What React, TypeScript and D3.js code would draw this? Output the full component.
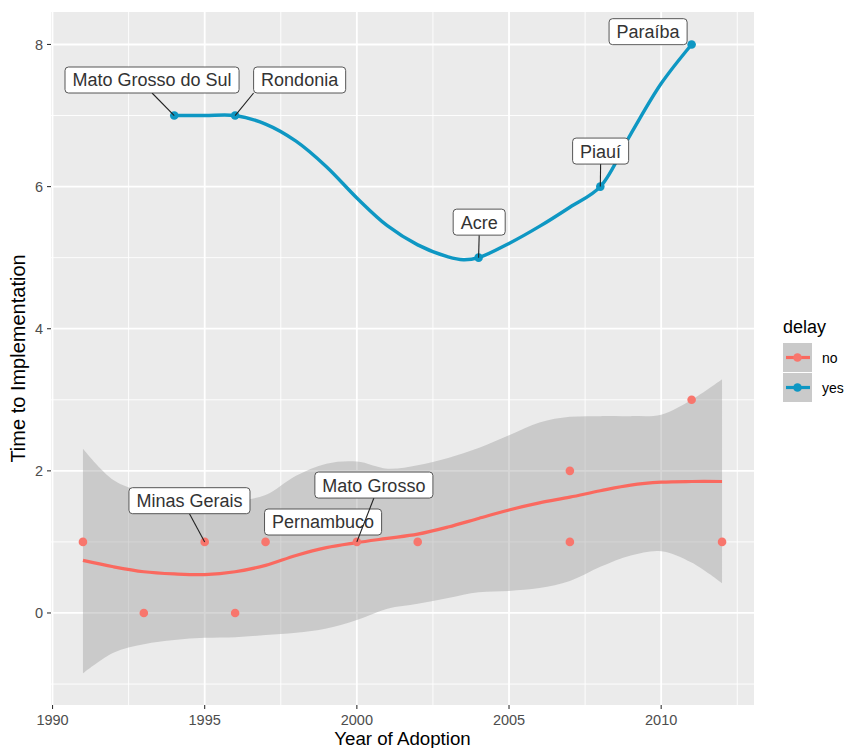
import React from 'react';
import * as d3 from 'd3';

const W = 844;
const H = 748;

// observed data: delay = "no"
const noYears = [1991, 1993, 1995, 1996, 1997, 2000, 2002, 2007, 2007, 2011, 2012];
const noValues = [1, 0, 1, 0, 1, 1, 1, 2, 1, 3, 1];
// observed data: delay = "yes"
const yesYears = [1994, 1996, 2004, 2008, 2011];
const yesValues = [7, 7, 5, 6, 8];

// smoother (delay = "no")
const fitNoYears = [1991, 1992, 1993, 1994, 1995, 1996, 1997, 1998, 1999, 2000, 2001, 2002, 2003, 2004, 2005, 2006, 2007, 2008, 2009, 2010, 2011, 2012];
const fitNoValues = [0.74, 0.65, 0.58, 0.55, 0.54, 0.58, 0.67, 0.81, 0.92, 0.99, 1.05, 1.11, 1.21, 1.33, 1.45, 1.55, 1.63, 1.72, 1.8, 1.84, 1.85, 1.85];
const bandUpper = [2.31, 1.87, 1.7, 1.61, 1.58, 1.58, 1.66, 1.93, 2.1, 2.13, 2.03, 2.08, 2.18, 2.32, 2.5, 2.68, 2.76, 2.77, 2.77, 2.79, 3.0, 3.29];
const bandLower = [-0.85, -0.56, -0.44, -0.38, -0.35, -0.34, -0.31, -0.28, -0.22, -0.1, 0.06, 0.13, 0.21, 0.29, 0.31, 0.35, 0.45, 0.65, 0.81, 0.87, 0.71, 0.42];

// smoother (delay = "yes")
const fitYesYears = [1994, 1995, 1996, 1997, 1998, 1999, 2000, 2001, 2002, 2003, 2003.5, 2004, 2005, 2006, 2007, 2008, 2009, 2010, 2011];
const fitYesValues = [7, 7, 7, 6.88, 6.64, 6.28, 5.84, 5.45, 5.18, 5.01, 4.97, 5.0, 5.2, 5.44, 5.71, 6.0, 6.74, 7.45, 8];

// labelled states
const labelNames = ['Mato Grosso do Sul', 'Rondonia', 'Acre', 'Piauí', 'Paraíba', 'Minas Gerais', 'Pernambuco', 'Mato Grosso'];
const labelYears = [1994, 1996, 2004, 2008, 2011, 1995, 1997, 2000];
const labelValues = [7, 7, 5, 6, 8, 1, 1, 1];
// repelled label centres (data units)
const labelBoxYears = [1993.27, 1998.12, 2004.02, 2008.01, 2009.57, 1994.5, 1998.89, 2000.56];
const labelBoxValues = [7.5, 7.5, 5.5, 6.5, 8.18, 1.58, 1.28, 1.8];

const xTicks = [1990, 1995, 2000, 2005, 2010];
const xMinor = [1992.5, 1997.5, 2002.5, 2007.5, 2012.5];
const yTicks = [0, 2, 4, 6, 8];
const yMinor = [-1, 1, 3, 5, 7];
const legendLabels = ['no', 'yes'];

const RED = '#F8766D';
const RED_LINE = '#FA695F';
const BLUE = '#0E97C3';
const FONT = '"Liberation Sans", Arial, Helvetica, sans-serif';

const panel = { left: 51, right: 754, top: 12, bottom: 705 };

function measure(text: string, size: number): number {
  const c = document.createElement('canvas').getContext('2d');
  if (!c) return text.length * size * 0.55;
  c.font = `${size}px "Liberation Sans"`;
  return c.measureText(text).width;
}

export default function App() {
  const x = d3.scaleLinear().domain([1989.95, 2013.05]).range([panel.left, panel.right]);
  const y = d3.scaleLinear().domain([-1.295, 8.457]).range([panel.bottom, panel.top]);

  const band = d3
    .area<number>()
    .x((_, i) => x(fitNoYears[i]))
    .y0((_, i) => y(bandLower[i]))
    .y1((_, i) => y(bandUpper[i]))
    .curve(d3.curveCatmullRom.alpha(0.5));
  const lineNo = d3
    .line<number>()
    .x((_, i) => x(fitNoYears[i]))
    .y((d) => y(d))
    .curve(d3.curveCatmullRom.alpha(0.5));
  const lineYes = d3
    .line<number>()
    .x((_, i) => x(fitYesYears[i]))
    .y((d) => y(d))
    .curve(d3.curveCatmullRom.alpha(0.5));

  const labelSize = 18;
  const padX = 7.5;
  const boxH = 26;

  const labels = labelNames.map((name, i) => {
    const tw = measure(name, labelSize);
    const bw = tw + 2 * padX;
    const cx = x(labelBoxYears[i]);
    const cy = y(labelBoxValues[i]);
    const px = x(labelYears[i]);
    const py = y(labelValues[i]);
    const x0 = cx - bw / 2, x1 = cx + bw / 2, y0 = cy - boxH / 2, y1 = cy + boxH / 2;
    const cands: [number, number][] = [];
    [x0, cx, x1].forEach((a) => [y0, cy, y1].forEach((b) => cands.push([a, b])));
    let best = cands[0];
    let bd = Infinity;
    cands.forEach((c) => {
      const d = Math.hypot(c[0] - px, c[1] - py);
      if (d < bd) { bd = d; best = c; }
    });
    return { name, cx, cy, bw, x0, y0, px, py, sx: best[0], sy: best[1], show: bd > 12 };
  });

  return (
    <svg width={W} height={H} style={{ position: 'absolute', left: 0, top: 0, background: '#fff' }} fontFamily={FONT}>
      <rect x={panel.left} y={panel.top} width={panel.right - panel.left} height={panel.bottom - panel.top} fill="#EBEBEB" />
      {xMinor.map((v) => (
        <line key={'xm' + v} x1={x(v)} x2={x(v)} y1={panel.top} y2={panel.bottom} stroke="#fff" strokeWidth={0.9} />
      ))}
      {yMinor.map((v) => (
        <line key={'ym' + v} y1={y(v)} y2={y(v)} x1={panel.left} x2={panel.right} stroke="#fff" strokeWidth={0.9} />
      ))}
      {xTicks.map((v) => (
        <line key={'xM' + v} x1={x(v)} x2={x(v)} y1={panel.top} y2={panel.bottom} stroke="#fff" strokeWidth={1.8} />
      ))}
      {yTicks.map((v) => (
        <line key={'yM' + v} y1={y(v)} y2={y(v)} x1={panel.left} x2={panel.right} stroke="#fff" strokeWidth={1.8} />
      ))}

      <path d={band(fitNoValues) || ''} fill="#999999" fillOpacity={0.4} />
      <path d={lineNo(fitNoValues) || ''} fill="none" stroke={RED_LINE} strokeWidth={3.2} />
      <path d={lineYes(fitYesValues) || ''} fill="none" stroke={BLUE} strokeWidth={3.4} />

      {noYears.map((yr, i) => (
        <circle key={'n' + i} cx={x(yr)} cy={y(noValues[i])} r={4.3} fill={RED} />
      ))}
      {yesYears.map((yr, i) => (
        <circle key={'y' + i} cx={x(yr)} cy={y(yesValues[i])} r={4.3} fill={BLUE} />
      ))}

      {labels.map((l) => (
        <g key={l.name}>
          {l.show && <line x1={l.sx} y1={l.sy} x2={l.px} y2={l.py} stroke="#222" strokeWidth={1.1} />}
          <rect x={l.x0} y={l.y0} width={l.bw} height={boxH} rx={3.5} fill="#fff" stroke="#444" strokeWidth={0.9} />
          <text x={l.cx} y={l.cy} dy="0.36em" textAnchor="middle" fontSize={labelSize} fill="#333">
            {l.name}
          </text>
        </g>
      ))}

      {/* axes */}
      {yTicks.map((v) => (
        <g key={'yt' + v}>
          <line x1={panel.left - 4} x2={panel.left} y1={y(v)} y2={y(v)} stroke="#333" strokeWidth={1.1} />
          <text x={panel.left - 8} y={y(v)} dy="0.36em" textAnchor="end" fontSize={14.5} fill="#4D4D4D">
            {v}
          </text>
        </g>
      ))}
      {xTicks.map((v) => (
        <g key={'xt' + v}>
          <line x1={x(v)} x2={x(v)} y1={panel.bottom} y2={panel.bottom + 4} stroke="#333" strokeWidth={1.1} />
          <text x={x(v)} y={725} textAnchor="middle" fontSize={14.5} fill="#4D4D4D">
            {v}
          </text>
        </g>
      ))}
      <text x={(panel.left + panel.right) / 2} y={745} textAnchor="middle" fontSize={18.7} fill="#000">
        Year of Adoption
      </text>
      <text
        transform={`translate(25,${(panel.top + panel.bottom) / 2}) rotate(-90)`}
        textAnchor="middle"
        fontSize={20}
        fill="#000"
      >
        Time to Implementation
      </text>

      {/* legend */}
      <text x={783} y={333} fontSize={18} fill="#000">delay</text>
      {legendLabels.map((lab, i) => {
        const ky = 343 + i * 30;
        const col = i === 0 ? RED_LINE : BLUE;
        return (
          <g key={lab}>
            <rect x={783} y={ky} width={29} height={29} fill="#EBEBEB" />
            <rect x={783} y={ky} width={29} height={29} fill="#999999" fillOpacity={0.4} />
            <line x1={786} x2={810} y1={ky + 14.5} y2={ky + 14.5} stroke={col} strokeWidth={3.2} />
            <circle cx={797.5} cy={ky + 14.5} r={4.3} fill={i === 0 ? RED : BLUE} />
            <text x={822} y={ky + 14.5} dy="0.36em" fontSize={14} fill="#000">
              {lab}
            </text>
          </g>
        );
      })}
    </svg>
  );
}
